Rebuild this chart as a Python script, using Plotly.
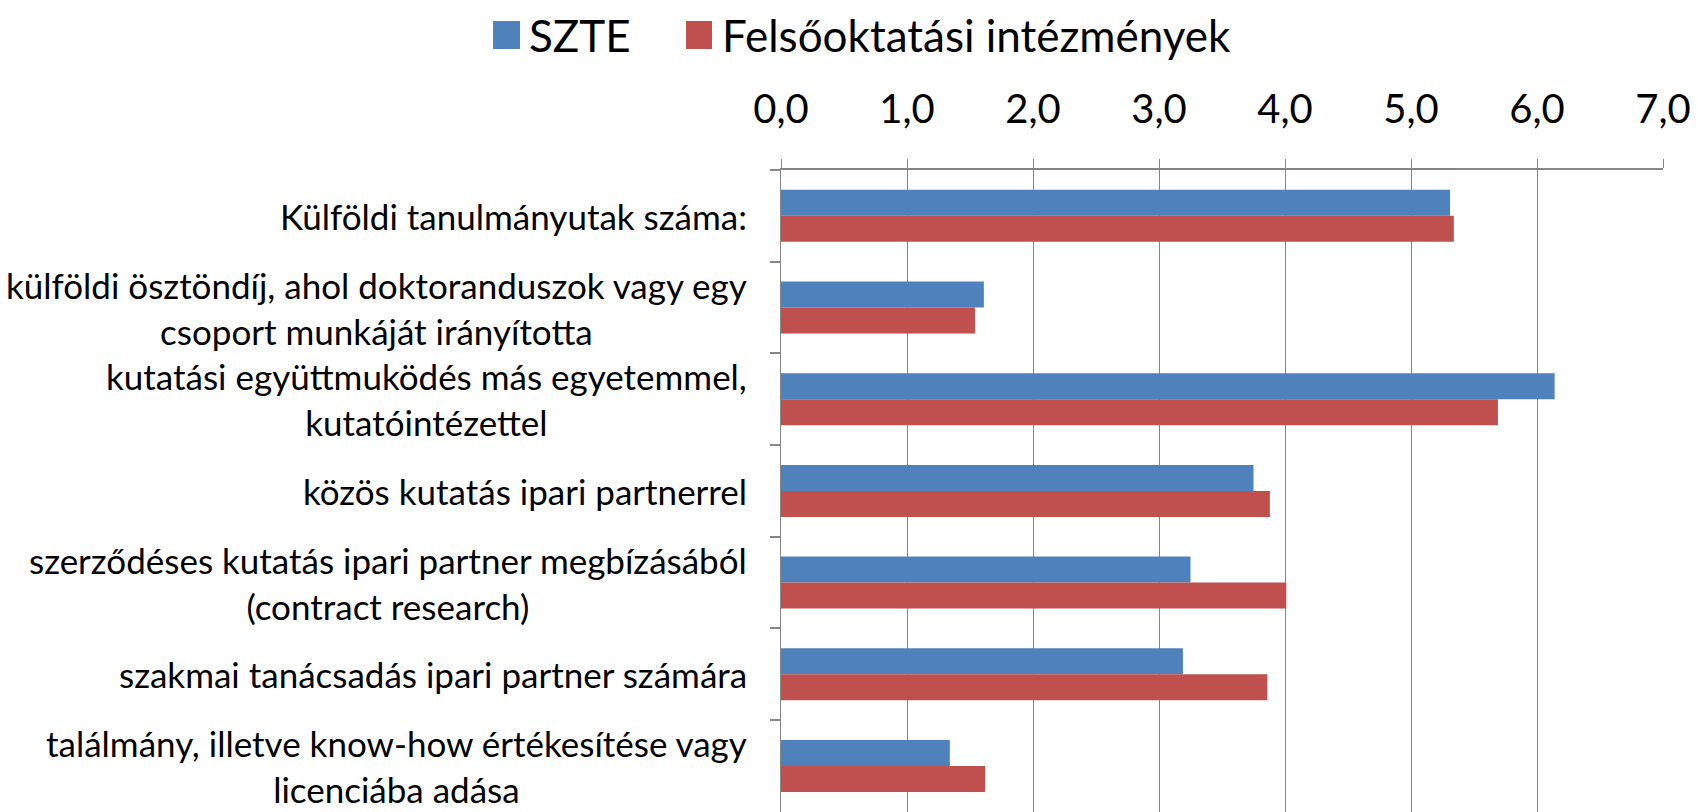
import plotly.graph_objects as go

categories = [
    "Külföldi tanulmányutak száma:",
    "külföldi ösztöndíj, ahol doktoranduszok vagy egy<br>csoport munkáját irányította",
    "kutatási együttmuködés más egyetemmel,<br>kutatóintézettel",
    "közös kutatás ipari partnerrel",
    "szerződéses kutatás ipari partner megbízásából<br>(contract research)",
    "szakmai tanácsadás ipari partner számára",
    "találmány, illetve know-how értékesítése vagy<br>licenciába adása",
]
szte = [5.31, 1.61, 6.14, 3.75, 3.25, 3.19, 1.34]
felso = [5.34, 1.54, 5.69, 3.88, 4.01, 3.86, 1.62]
series_names = ["SZTE", "Felsőoktatási intézmények"]
tick_vals = [0, 1, 2, 3, 4, 5, 6, 7]
tick_text = ["0,0", "1,0", "2,0", "3,0", "4,0", "5,0", "6,0", "7,0"]

BLUE = "#4F81BD"
RED = "#C0504D"
GRID = "#868686"
FONT = "Lato, 'Open Sans', sans-serif"

W, H = 1698, 812
L, R, T, B = 781, 35, 170, 0
PW, PH = W - L - R, H - T - B

def px(x):
    return (x - L) / PW

def py(y):
    return (H - B - y) / PH

fig = go.Figure()
fig.add_trace(go.Bar(y=categories, x=szte, orientation="h", name=series_names[0],
                     marker=dict(color=BLUE, line=dict(width=0)), showlegend=False))
fig.add_trace(go.Bar(y=categories, x=felso, orientation="h", name=series_names[1],
                     marker=dict(color=RED, line=dict(width=0)), showlegend=False))

annotations = []
for c in categories:
    annotations.append(dict(x=0, xref="paper", y=c, yref="y", text=c, showarrow=False,
                            xanchor="right", yanchor="middle", align="center", xshift=-32,
                            font=dict(family=FONT, size=35, color="black")))

# manual legend
shapes = []
leg = [(493, 520, 527, BLUE, series_names[0]), (686, 712, 720, RED, series_names[1])]
for x0, x1, tx, col, name in leg:
    shapes.append(dict(type="rect", xref="paper", yref="paper", x0=px(x0), x1=px(x1),
                       y0=py(49), y1=py(21), fillcolor=col, line=dict(width=0)))
    annotations.append(dict(x=px(tx), xref="paper", y=py(35), yref="paper", text=name,
                            showarrow=False, xanchor="left", yanchor="middle",
                            font=dict(family=FONT, size=44, color="black")))

fig.update_layout(
    width=W, height=H,
    margin=dict(l=L, r=R, t=T, b=B, pad=0),
    paper_bgcolor="white", plot_bgcolor="white",
    barmode="group", bargap=0.433, bargroupgap=0,
    showlegend=False,
    annotations=annotations, shapes=shapes,
    xaxis=dict(side="top", range=[0, 7], tickvals=tick_vals, ticktext=tick_text,
               showgrid=True, gridcolor=GRID, gridwidth=1, zeroline=False,
               showline=True, linecolor=GRID, linewidth=2,
               ticks="outside", ticklen=9, tickcolor=GRID, tickwidth=1,
               ticklabelstandoff=20,
               tickfont=dict(family=FONT, size=40, color="black")),
    yaxis=dict(autorange="reversed", showticklabels=False, showgrid=False, zeroline=False,
               showline=True, linecolor=GRID, linewidth=1,
               ticks="outside", ticklen=10, tickcolor=GRID, tickwidth=2,
               tickson="boundaries"),
)

fig.write_html("out.html")
